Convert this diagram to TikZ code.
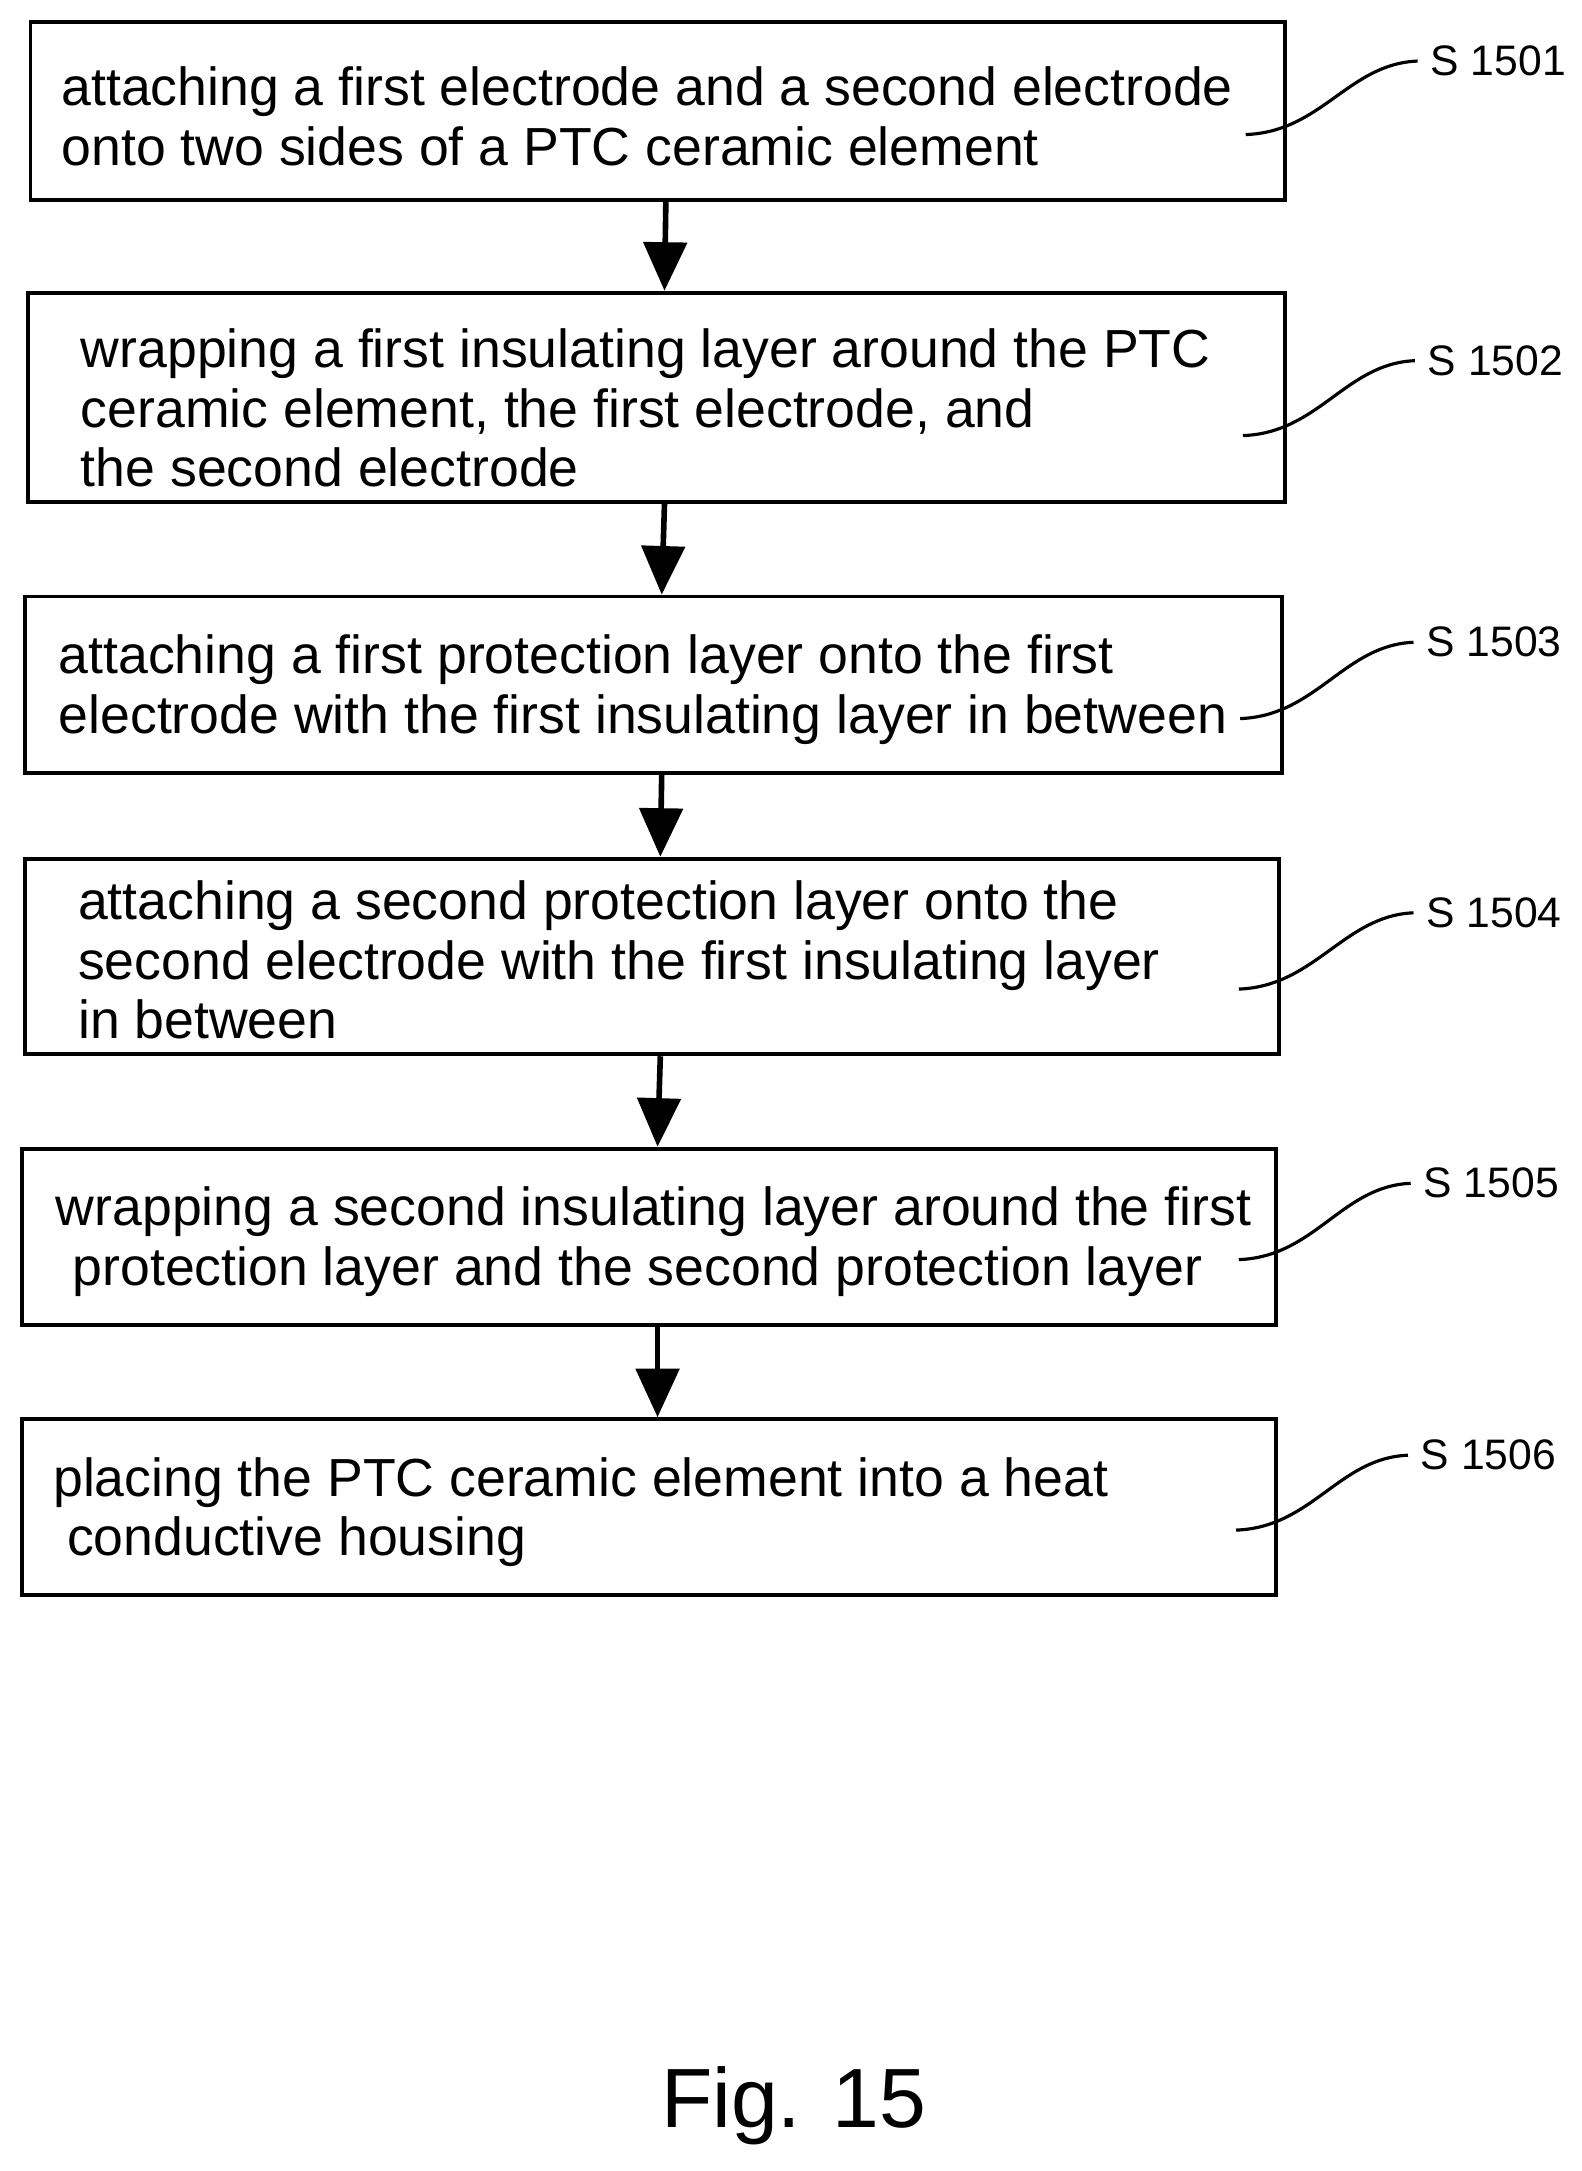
\documentclass[tikz,border=0pt]{standalone}
\usepackage{fontspec}
\setmainfont{Liberation Sans}
\usetikzlibrary{arrows.meta}
\begin{document}
\begin{tikzpicture}[x=0.02cm,y=-0.02cm,
  box/.style={draw,line width=1.6pt,inner sep=0pt},
  txt/.style={anchor=west,align=left,inner sep=0pt,font=\fontsize{22}{24.5}\selectfont},
  lab/.style={anchor=center,inner sep=0pt,font=\fontsize{17.5}{19}\selectfont},
  arr/.style={line width=2.3pt,-{Triangle[length=0.7cm,width=0.62cm]}},
  lead/.style={line width=1.3pt}]
\useasboundingbox (0,0) rectangle (1140,1565);
\node[box,minimum width=904*0.02cm,minimum height=128*0.02cm] (b1) at (474,80) {};
\node[box,minimum width=906*0.02cm,minimum height=151*0.02cm] (b2) at (473,286.5) {};
\node[box,minimum width=906*0.02cm,minimum height=127*0.02cm] (b3) at (471,493.5) {};
\node[box,minimum width=904*0.02cm,minimum height=141*0.02cm] (b4) at (470,689.5) {};
\node[box,minimum width=904*0.02cm,minimum height=127*0.02cm] (b5) at (468,891.5) {};
\node[box,minimum width=904*0.02cm,minimum height=127*0.02cm] (b6) at (468,1086.5) {};
\node[txt] (t1) at (44,84) {attaching a first electrode and a second electrode\\onto two sides of a PTC ceramic element};
\node[txt] (t2) at (58,294) {wrapping a first insulating layer around the PTC\\ceramic element, the first electrode, and\\the second electrode};
\node[txt] (t3) at (42,497) {attaching a first protection layer onto the first\\electrode with the first insulating layer in between};
\node[txt] (t4) at (56,692) {attaching a second protection layer onto the\\second electrode with the first insulating layer\\in between};
\node[txt] (t5) at (40,895) {wrapping a second insulating layer around the first\\\hspace*{0.24cm}protection layer and the second protection layer};
\node[txt] (t6) at (38,1090) {placing the PTC ceramic element into a heat\\\hspace*{0.2cm}conductive housing};
\foreach \a/\b in {b1/b2,b2/b3,b3/b4,b4/b5,b5/b6}
  \draw[arr] ([xshift=0.12cm]\a.south) -- ([xshift=0.12cm]\b.north);
\node[lab] (l1) at (1080,44) {S 1501};
\node[lab] (l2) at (1078,260) {S 1502};
\node[lab] (l3) at (1077,463) {S 1503};
\node[lab] (l4) at (1077,658) {S 1504};
\node[lab] (l5) at (1075,853) {S 1505};
\node[lab] (l6) at (1073,1049) {S 1506};
\coordinate (s1) at (898,97); \coordinate (s2) at (896,314); \coordinate (s3) at (894,518);
\coordinate (s4) at (893,713); \coordinate (s5) at (893,908); \coordinate (s6) at (891,1103);
\foreach \i in {1,...,6}
  \draw[lead] (s\i) .. controls ++(55,-2) and ++(-50,2) .. ([xshift=-0.18cm]l\i.west);
\node[inner sep=0pt,font=\fontsize{34.5}{40}\selectfont] (fig) at (572,1518) {Fig. 15};
\end{tikzpicture}
\end{document}
